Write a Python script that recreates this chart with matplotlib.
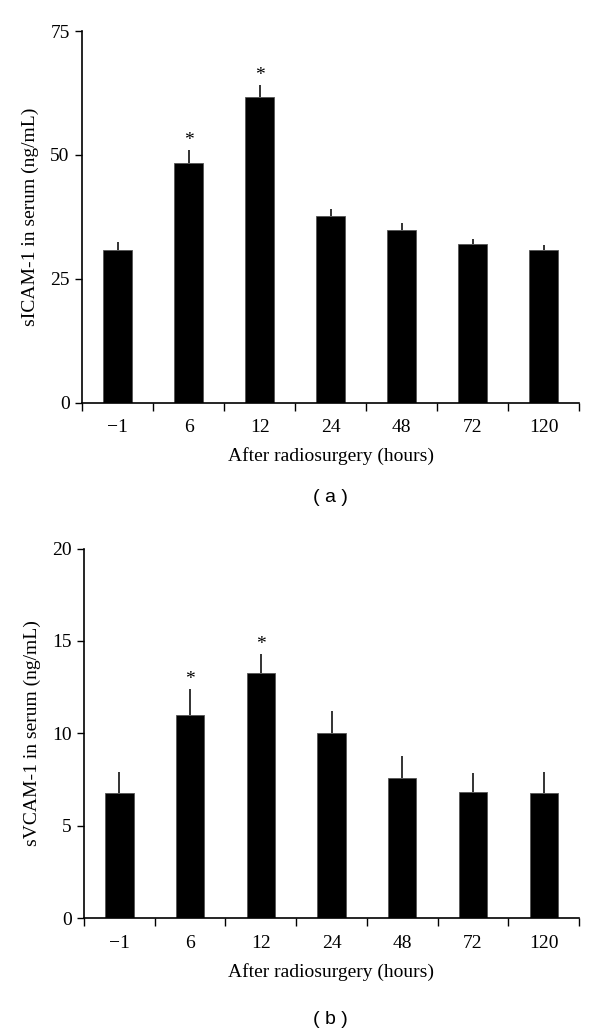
import matplotlib
matplotlib.use("Agg")
import matplotlib.pyplot as plt

# data
hours = ["\u22121", "6", "12", "24", "48", "72", "120"]
icam_mean = [30.9, 48.3, 61.7, 37.6, 34.9, 32.0, 30.9]
icam_err = [1.5, 2.6, 2.4, 1.4, 1.4, 1.0, 1.0]
vcam_mean = [6.76, 10.98, 13.29, 9.99, 7.57, 6.82, 6.78]
vcam_err = [1.14, 1.42, 0.99, 1.20, 1.22, 1.03, 1.11]
signif = [False, True, True, False, False, False, False]

serif = ["Liberation Serif", "DejaVu Serif"]


def draw_panel(ax, means, errs, ymax, step, ylabel):
    x = list(range(len(hours)))
    ax.bar(x, means, width=0.4, color="black", edgecolor="#555555", linewidth=0.6, zorder=2)
    ax.errorbar(x, means, yerr=[[0] * len(errs), errs], fmt="none",
                ecolor="#111111", elinewidth=1.2, capsize=0, zorder=3)
    for xi, m, e, s in zip(x, means, errs, signif):
        if s:
            ax.annotate("*", (xi, m + e), xytext=(0, 7), textcoords="offset points",
                        ha="center", va="center", fontsize=14, family=serif)

    ax.set_xlim(-0.5, len(hours) - 0.5)
    ax.set_ylim(0, ymax)
    ax.set_yticks(range(0, ymax + 1, step))
    ax.set_xticks(x)
    ax.set_xticklabels(hours, family=serif, fontsize=14)
    ax.set_xticks([i - 0.5 for i in range(len(hours) + 1)], minor=True)
    ax.tick_params(axis="x", which="major", length=0, pad=12)
    ax.tick_params(axis="x", which="minor", length=6, width=1, direction="out")
    ax.tick_params(axis="y", length=5, width=1, direction="out", labelsize=14, pad=4)
    for lab in ax.get_yticklabels():
        lab.set_family(serif)
    ax.spines["top"].set_visible(False)
    ax.spines["right"].set_visible(False)
    ax.spines["left"].set_linewidth(1.2)
    ax.spines["bottom"].set_linewidth(1.2)
    ax.set_ylabel(ylabel, family=serif, fontsize=14, labelpad=8)
    ax.set_xlabel("After radiosurgery (hours)", family=serif, fontsize=14, labelpad=8)


fig = plt.figure(figsize=(6, 10.35), dpi=100)
ax1 = fig.add_axes([0.137, 0.611, 0.828, 0.359])
ax2 = fig.add_axes([0.140, 0.113, 0.825, 0.357])

draw_panel(ax1, icam_mean, icam_err, 75, 25, "sICAM-1 in serum (ng/mL)")
draw_panel(ax2, vcam_mean, vcam_err, 20, 5, "sVCAM-1 in serum (ng/mL)")

fig.text(0.55, 1 - 498 / 1035, "( a )", ha="center", va="center", fontsize=14,
         family=["Liberation Sans", "DejaVu Sans"])
fig.text(0.55, 1 - 1020 / 1035, "( b )", ha="center", va="center", fontsize=14,
         family=["Liberation Sans", "DejaVu Sans"])

fig.savefig("out.png", dpi=100, facecolor="white")
